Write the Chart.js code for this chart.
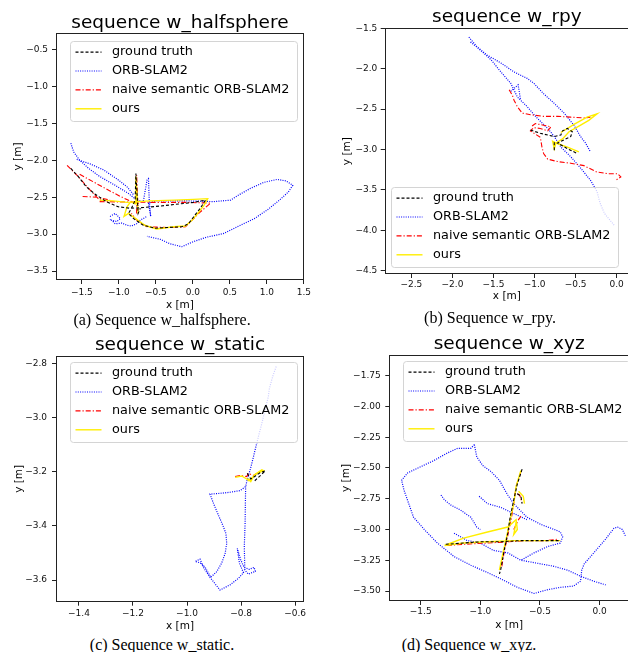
<!DOCTYPE html>
<html>
<head>
<meta charset="utf-8">
<script src="https://cdn.jsdelivr.net/npm/chart.js@4.4.0/dist/chart.umd.min.js"></script>
<style>
  body { margin: 0; width: 628px; height: 652px; overflow: hidden; background: #fff; position: relative; }
  canvas { position: absolute; }
  .cap { position: absolute; width: 300px; text-align: center; font-family: "Liberation Serif", serif; font-size: 16px; line-height: 18px; color: #000; white-space: nowrap; }
</style>
</head>
<body>
<canvas id="cHalf" width="314" height="312" style="left:0;top:0"></canvas>
<canvas id="cRpy" width="326" height="303" style="left:314px;top:0"></canvas>
<canvas id="cStatic" width="314" height="303" style="left:0;top:330px"></canvas>
<canvas id="cXyz" width="326" height="302" style="left:314px;top:330px"></canvas>
<div class="cap" style="left:12px;top:311px">(a) Sequence w_halfsphere.</div>
<div class="cap" style="left:340px;top:309px">(b) Sequence w_rpy.</div>
<div class="cap" style="left:12px;top:636px">(c) Sequence w_static.</div>
<div class="cap" style="left:319px;top:636px">(d) Sequence w_xyz.</div>
<script>
'use strict';

const seriesNames = ['ground truth', 'ORB-SLAM2', 'naive semantic ORB-SLAM2', 'ours'];

// w_halfsphere, pieces of each trajectory as [x, y] in metres
const halfGt = [
  [[-1.65,-2.11],[-1.55,-2.22],[-1.44,-2.36],[-1.32,-2.46],[-1.17,-2.56],[-1.01,-2.63],[-0.85,-2.65],[-0.67,-2.64],[-0.44,-2.62],[-0.17,-2.59],[0.01,-2.57],[0.17,-2.54],[0.10,-2.65],[0.03,-2.74],[-0.06,-2.86],[-0.15,-2.90],[-0.35,-2.91],[-0.51,-2.92],[-0.67,-2.88],[-0.80,-2.79],[-0.87,-2.72],[-0.83,-2.65],[-0.78,-2.54],[-0.77,-2.18],[-0.75,-2.54],[-0.74,-2.72],[-0.71,-2.65]]
];
const halfOrb = [
  [[-1.65,-1.77],[-1.61,-1.89],[-1.53,-2.00],[-1.41,-2.11],[-1.26,-2.22],[-1.05,-2.34],[-0.87,-2.45],[-0.76,-2.54],[-0.67,-2.56],[-0.62,-2.27],[-0.60,-2.25],[-0.59,-2.54],[-0.57,-2.76],[-0.60,-2.58],[-0.49,-2.55],[-0.08,-2.55],[0.28,-2.56],[0.51,-2.54],[0.62,-2.47],[0.78,-2.38],[0.96,-2.30],[1.14,-2.26],[1.26,-2.28],[1.35,-2.34],[1.29,-2.43],[1.17,-2.54],[1.01,-2.67],[0.83,-2.79],[0.60,-2.90],[0.42,-2.99],[0.19,-3.04],[0.01,-3.10],[-0.15,-3.17],[-0.31,-3.13],[-0.44,-3.07],[-0.62,-3.03]],
  [[-1.57,-1.99],[-1.39,-2.05],[-1.21,-2.13],[-1.03,-2.25],[-0.89,-2.36],[-0.80,-2.47]],
  [[-1.12,-2.76],[-1.05,-2.72],[-0.98,-2.79],[-1.03,-2.83],[-1.10,-2.81],[-1.05,-2.86],[-0.96,-2.85],[-0.89,-2.88],[-0.83,-2.89],[-0.76,-2.86],[-0.71,-2.81],[-0.62,-2.76]]
];
const halfNaive = [
  [[-1.70,-2.07],[-1.55,-2.22],[-1.41,-2.38],[-1.28,-2.52],[-1.21,-2.56]],
  [[-1.53,-2.19],[-1.35,-2.29],[-1.17,-2.39],[-0.98,-2.49],[-0.83,-2.56],[-0.71,-2.59]],
  [[-1.49,-2.49],[-1.30,-2.50],[-1.12,-2.54]],
  [[-1.26,-2.56],[-0.58,-2.57],[-0.12,-2.57],[0.24,-2.58],[0.10,-2.70],[-0.01,-2.81],[-0.10,-2.90],[-0.35,-2.91],[-0.62,-2.90],[-0.76,-2.81],[-0.83,-2.72]],
  [[-0.76,-2.72],[-0.76,-2.20],[-0.74,-2.67]]
];
const halfOurs = [
  [[-1.26,-2.54],[-1.08,-2.55],[-0.89,-2.57],[-0.58,-2.55],[-0.26,-2.54],[0.01,-2.53],[0.20,-2.52],[0.15,-2.61],[0.08,-2.70],[-0.01,-2.81],[-0.10,-2.89],[-0.26,-2.90],[-0.49,-2.93],[-0.65,-2.88],[-0.76,-2.80],[-0.87,-2.72],[-0.93,-2.76],[-0.89,-2.63],[-0.84,-2.56],[-0.78,-2.59],[-0.77,-2.22],[-0.75,-2.58],[-0.74,-2.72]]
];

// w_rpy
const rpyGt = [
  [[-1.05,-2.76],[-0.93,-2.80],[-0.76,-2.84],[-0.68,-2.82],[-0.66,-2.77],[-0.60,-2.74],[-0.54,-2.78],[-0.56,-2.84],[-0.64,-2.88],[-0.72,-2.92],[-0.60,-2.99],[-0.48,-3.05]],
  [[-0.76,-2.91],[-0.76,-3.01]]
];
const rpyOrb = [
  [[-1.80,-1.61],[-1.70,-1.73],[-1.58,-1.83],[-1.41,-1.93],[-1.25,-2.04],[-1.09,-2.12],[-1.01,-2.18],[-0.89,-2.31],[-0.76,-2.43],[-0.64,-2.55],[-0.52,-2.70],[-0.44,-2.84],[-0.38,-2.92],[-0.32,-3.03]],
  [[-1.78,-1.67],[-1.66,-1.77],[-1.53,-1.89],[-1.41,-2.04],[-1.29,-2.18],[-1.21,-2.35],[-1.09,-2.47],[-0.97,-2.61],[-0.84,-2.74],[-0.76,-2.84],[-0.68,-2.97],[-0.56,-3.09],[-0.44,-3.23],[-0.32,-3.38],[-0.24,-3.52],[-0.20,-3.67],[-0.15,-3.79],[-0.07,-3.89],[-0.03,-3.94]],
  [[-1.29,-2.28],[-1.20,-2.20],[-1.17,-2.39]]
];
const rpyNaive = [
  [[-1.31,-2.26],[-1.27,-2.33],[-1.25,-2.39],[-1.21,-2.47],[-1.15,-2.55],[-1.05,-2.57],[-0.89,-2.59],[-0.72,-2.59],[-0.56,-2.60],[-0.40,-2.61],[-0.32,-2.60]],
  [[-1.03,-2.71],[-0.99,-2.68],[-0.89,-2.70],[-0.80,-2.72],[-0.84,-2.77],[-0.93,-2.74],[-1.01,-2.73],[-1.05,-2.77],[-0.99,-2.81],[-0.93,-2.85],[-0.91,-2.97],[-0.89,-3.05],[-0.84,-3.12],[-0.72,-3.15],[-0.56,-3.17],[-0.40,-3.20],[-0.24,-3.28],[-0.11,-3.30],[0.01,-3.30],[0.05,-3.34],[-0.01,-3.38]]
];
const rpyOurs = [
  [[-0.68,-2.79],[-0.52,-2.69],[-0.36,-2.60],[-0.24,-2.56],[-0.34,-2.64],[-0.46,-2.71],[-0.58,-2.78],[-0.66,-2.87],[-0.74,-2.92],[-0.78,-2.90],[-0.76,-2.99],[-0.74,-2.92],[-0.60,-2.97],[-0.46,-3.03]]
];

// w_static
const staticGt = [
  [[-0.777,-3.206],[-0.764,-3.227],[-0.747,-3.216],[-0.730,-3.204],[-0.710,-3.197],[-0.754,-3.238]]
];
const staticOrb = [
  [[-0.670,-2.812],[-0.683,-2.849],[-0.695,-2.892],[-0.699,-2.923],[-0.711,-2.972],[-0.723,-3.022],[-0.736,-3.071],[-0.748,-3.120],[-0.760,-3.169],[-0.770,-3.206],[-0.779,-3.237],[-0.783,-3.255],[-0.804,-3.270],[-0.841,-3.276],[-0.878,-3.280],[-0.915,-3.283],[-0.902,-3.317],[-0.884,-3.360],[-0.868,-3.397],[-0.856,-3.428],[-0.853,-3.465],[-0.859,-3.502],[-0.872,-3.538],[-0.890,-3.569],[-0.912,-3.590],[-0.933,-3.553],[-0.952,-3.536],[-0.970,-3.532],[-0.952,-3.523],[-0.937,-3.557],[-0.915,-3.590],[-0.878,-3.637],[-0.841,-3.618],[-0.810,-3.594],[-0.791,-3.573],[-0.806,-3.538],[-0.814,-3.483],[-0.801,-3.526],[-0.789,-3.553],[-0.769,-3.561],[-0.752,-3.553],[-0.747,-3.568],[-0.773,-3.578],[-0.786,-3.563],[-0.788,-3.477],[-0.785,-3.391],[-0.784,-3.317],[-0.783,-3.255]]
];
const staticNaive = [
  [[-0.822,-3.218],[-0.804,-3.214],[-0.779,-3.218],[-0.773,-3.206],[-0.754,-3.214],[-0.730,-3.200],[-0.715,-3.196]]
];
const staticOurs = [
  [[-0.822,-3.221],[-0.798,-3.216],[-0.779,-3.227],[-0.772,-3.233],[-0.754,-3.218],[-0.740,-3.206],[-0.717,-3.196],[-0.723,-3.193],[-0.751,-3.212],[-0.764,-3.237],[-0.776,-3.225]]
];

// w_xyz
const xyzGt = [
  [[-0.65,-2.51],[-0.69,-2.63],[-0.72,-2.76],[-0.75,-2.90],[-0.77,-3.03],[-0.80,-3.17],[-0.83,-3.33],[-0.84,-3.36]],
  [[-1.29,-3.12],[-1.14,-3.11],[-1.00,-3.10],[-0.83,-3.10],[-0.66,-3.09],[-0.49,-3.09],[-0.33,-3.09]],
  [[-0.69,-2.71],[-0.66,-2.73],[-0.65,-2.79]]
];
const xyzOrb = [
  [[-1.05,-2.31],[-1.08,-2.34],[-1.19,-2.34],[-1.28,-2.38],[-1.39,-2.44],[-1.50,-2.49],[-1.61,-2.54],[-1.66,-2.60],[-1.64,-2.68],[-1.60,-2.79],[-1.56,-2.90],[-1.47,-3.00],[-1.36,-3.11],[-1.22,-3.22],[-1.08,-3.29],[-0.94,-3.35],[-0.83,-3.40],[-0.69,-3.47],[-0.55,-3.52],[-0.44,-3.49],[-0.33,-3.47],[-0.22,-3.46],[-0.16,-3.42],[-0.15,-3.33],[-0.13,-3.28],[-0.05,-3.19],[0.04,-3.09],[0.12,-2.99],[0.15,-2.98],[0.19,-3.00],[0.22,-3.06]],
  [[-1.05,-2.31],[-1.03,-2.41],[-0.98,-2.48],[-0.91,-2.53],[-0.84,-2.60],[-0.80,-2.67],[-0.77,-2.72],[-0.72,-2.79],[-0.61,-2.90],[-0.49,-2.96],[-0.38,-3.00],[-0.33,-3.02],[-0.31,-3.06],[-0.33,-3.11],[-0.44,-3.14],[-0.55,-3.19],[-0.66,-3.25]],
  [[-1.33,-2.72],[-1.30,-2.76],[-1.25,-2.80],[-1.17,-2.84],[-1.08,-2.90],[-1.03,-2.98],[-1.00,-3.00]],
  [[-1.01,-2.73],[-0.94,-2.79],[-0.83,-2.82],[-0.72,-2.87],[-0.61,-2.92]],
  [[-1.22,-3.03],[-1.11,-3.09],[-1.00,-3.11],[-0.89,-3.17],[-0.77,-3.19],[-0.66,-3.25],[-0.49,-3.28],[-0.38,-3.30],[-0.27,-3.33],[-0.16,-3.38],[-0.05,-3.42],[0.05,-3.45]]
];
const xyzNaive = [
  [[-0.66,-2.53],[-0.70,-2.65],[-0.72,-2.79],[-0.74,-2.91],[-0.77,-3.05],[-0.80,-3.18],[-0.82,-3.30]],
  [[-1.28,-3.13],[-1.14,-3.12],[-0.94,-3.11],[-0.77,-3.10],[-0.61,-3.09],[-0.44,-3.09],[-0.36,-3.08]],
  [[-0.72,-3.00],[-0.68,-2.92],[-0.65,-2.88]],
  [[-0.69,-2.71],[-0.67,-2.72],[-0.65,-2.78]]
];
const xyzOurs = [
  [[-1.30,-3.13],[-1.14,-3.11],[-0.94,-3.10],[-0.72,-3.09],[-0.49,-3.09],[-0.33,-3.09]],
  [[-0.66,-2.52],[-0.70,-2.65],[-0.72,-2.79],[-0.75,-2.92],[-0.78,-3.06],[-0.81,-3.19],[-0.84,-3.33]],
  [[-1.30,-3.13],[-1.14,-3.07],[-0.94,-3.02],[-0.77,-2.98],[-0.70,-2.92],[-0.69,-3.00],[-0.72,-3.04],[-0.70,-2.94]],
  [[-0.68,-2.69],[-0.64,-2.73],[-0.63,-2.79]]
];

// tick labels
const halfXTicks = [-1.5, -1.0, -0.5, 0.0, 0.5, 1.0, 1.5];
const halfYTicks = [-3.5, -3.0, -2.5, -2.0, -1.5, -1.0, -0.5];
const rpyXTicks = [-2.5, -2.0, -1.5, -1.0, -0.5, 0.0];
const rpyYTicks = [-4.5, -4.0, -3.5, -3.0, -2.5, -2.0, -1.5];
const staticXTicks = [-1.4, -1.2, -1.0, -0.8, -0.6];
const staticYTicks = [-3.6, -3.4, -3.2, -3.0, -2.8];
const xyzXTicks = [-1.5, -1.0, -0.5, 0.0];
const xyzYTicks = [-3.5, -3.25, -3.0, -2.75, -2.5, -2.25, -2.0, -1.75];

Chart.defaults.font.family = '"DejaVu Sans", sans-serif';
Chart.defaults.color = '#000';

const lineStyles = [
  {borderColor: '#000', borderDash: [3, 2], borderWidth: 1.1, order: 0},
  {borderColor: '#0000ff', borderDash: [1, 1.3], borderWidth: 1.2, order: 3},
  {borderColor: '#ff0000', borderDash: [5, 2, 1.2, 2], borderWidth: 1.1, order: 2},
  {borderColor: '#ffee00', borderDash: [], borderWidth: 1.4, order: 1}
];

// pieces joined with a gap between them
function joinPieces(pieces) {
  let pts = [];
  pieces.forEach((p, i) => {
    if (i > 0) pts.push({x: null, y: null});
    p.forEach(q => pts.push({x: q[0], y: q[1]}));
  });
  return pts;
}

function fmt(v, d) {
  return v.toFixed(d).replace('-', '\u2212');
}

// black box round the axes, like matplotlib spines
const frame = {
  id: 'frame',
  afterDatasetsDraw(chart) {
    const a = chart.chartArea, ctx = chart.ctx;
    ctx.save();
    ctx.strokeStyle = '#222';
    ctx.lineWidth = 1;
    ctx.strokeRect(Math.round(a.left) + 0.5, Math.round(a.top) + 0.5, Math.round(a.right - a.left) - 1, Math.round(a.bottom - a.top) - 1);
    ctx.restore();
  }
};

// legend inside the axes with line samples
const boxLegend = {
  id: 'boxLegend',
  afterDraw(chart, args, opts) {
    const a = chart.chartArea, ctx = chart.ctx;
    const w = 227, h = 80;
    const x = Math.round(a.left + opts.dx) + 0.5;
    const y = Math.round(opts.from === 'bottom' ? a.bottom - opts.dy - h : a.top + opts.dy) + 0.5;
    ctx.save();
    ctx.beginPath();
    ctx.roundRect(x, y, w, h, 3);
    ctx.fillStyle = 'rgba(255,255,255,0.8)';
    ctx.fill();
    ctx.strokeStyle = '#d4d4d4';
    ctx.lineWidth = 1;
    ctx.stroke();
    chart.data.datasets.forEach((ds, i) => {
      const cy = y + 10.6 + i * 18.9;
      ctx.beginPath();
      ctx.setLineDash(ds.borderDash);
      ctx.strokeStyle = ds.borderColor;
      ctx.lineWidth = ds.borderWidth;
      ctx.moveTo(x + 5, cy);
      ctx.lineTo(x + 31, cy);
      ctx.stroke();
      ctx.setLineDash([]);
      ctx.fillStyle = '#000';
      ctx.font = '12.8px "DejaVu Sans"';
      ctx.textBaseline = 'middle';
      ctx.fillText(ds.label, x + 41.5, cy);
    });
    ctx.restore();
  }
};

function makeChart(id, title, series, xr, yr, xt, yt, xd, yd, g, leg) {
  let datasets = series.map((s, i) => Object.assign({
    label: seriesNames[i],
    data: joinPieces(s),
    showLine: true,
    pointRadius: 0,
    fill: false,
    tension: 0
  }, lineStyles[i]));

  return new Chart(document.getElementById(id), {
    type: 'scatter',
    data: {datasets: datasets},
    options: {
      responsive: false,
      animation: false,
      events: [],
      layout: {padding: {left: 0, right: g.padRight, top: 0, bottom: 0}},
      plugins: {
        legend: {display: false},
        tooltip: {enabled: false},
        title: {
          display: true, text: title, fullSize: false, color: '#000',
          font: {size: 18.5, weight: 'normal', lineHeight: 1},
          padding: {top: g.titleTop, bottom: g.titleBottom}
        },
        boxLegend: leg
      },
      scales: {
        x: {
          type: 'linear', min: xr[0], max: xr[1],
          afterFit: s => { s.height = g.xh; },
          afterBuildTicks: s => { s.ticks = xt.map(v => ({value: v})); },
          ticks: {autoSkip: false, maxRotation: 0, padding: g.xTickPad, font: {size: 9}, color: '#111', callback: v => fmt(v, xd)},
          grid: {drawOnChartArea: false, drawTicks: true, tickLength: 4, color: '#222'},
          border: {display: false},
          title: {display: true, text: 'x [m]', color: '#000', font: {size: 10.5}, padding: {top: 0, bottom: g.xTitlePad}}
        },
        y: {
          type: 'linear', min: yr[0], max: yr[1],
          afterFit: s => { s.width = g.yw; },
          afterBuildTicks: s => { s.ticks = yt.map(v => ({value: v})); },
          ticks: {autoSkip: false, padding: g.yTickPad, font: {size: 9}, color: '#111', callback: v => fmt(v, yd)},
          grid: {drawOnChartArea: false, drawTicks: true, tickLength: 4, color: '#222'},
          border: {display: false},
          title: {display: true, text: 'y [m]', color: '#000', font: {size: 10.5}, padding: {top: g.yTitlePad, bottom: 0}}
        }
      }
    },
    plugins: [frame, boxLegend]
  });
}

makeChart('cHalf', 'sequence w_halfsphere', [halfGt, halfOrb, halfNaive, halfOurs],
  [-1.85, 1.5], [-3.62, -0.28], halfXTicks, halfYTicks, 1, 1,
  {padRight: 10, titleTop: 14.4, titleBottom: 0.1, xh: 32, xTickPad: 3, xTitlePad: 0.7, yw: 56, yTickPad: 4, yTitlePad: 11.7},
  {dx: 14, dy: 7.7, from: 'top'});

makeChart('cRpy', 'sequence w_rpy', [rpyGt, rpyOrb, rpyNaive, rpyOurs],
  [-2.825, 0.15], [-4.542, -1.5], rpyXTicks, rpyYTicks, 1, 1,
  {padRight: 11, titleTop: 7.85, titleBottom: 1.95, xh: 29, xTickPad: 1.2, xTitlePad: 0.3, yw: 70.7, yTickPad: 3.4, yTitlePad: 26.5},
  {dx: 6.6, dy: 6.7, from: 'bottom'});

makeChart('cStatic', 'sequence w_static', [staticGt, staticOrb, staticNaive, staticOurs],
  [-1.485, -0.567], [-3.68, -2.773], staticXTicks, staticYTicks, 1, 1,
  {padRight: 10, titleTop: 5.65, titleBottom: 1.85, xh: 31.3, xTickPad: 2.2, xTitlePad: 0.7, yw: 56, yTickPad: 5, yTitlePad: 12.9},
  {dx: 14, dy: 5.7, from: 'top'});

makeChart('cXyz', 'sequence w_xyz', [xyzGt, xyzOrb, xyzNaive, xyzOurs],
  [-1.763, 0.246], [-3.581, -1.582], xyzXTicks, xyzYTicks, 1, 2,
  {padRight: 11, titleTop: 4.55, titleBottom: 1.95, xh: 31, xTickPad: 1.2, xTitlePad: 0.4, yw: 75.3, yTickPad: 4.6, yTitlePad: 26.2},
  {dx: 14, dy: 6, from: 'top'});
</script>
</body>
</html>
